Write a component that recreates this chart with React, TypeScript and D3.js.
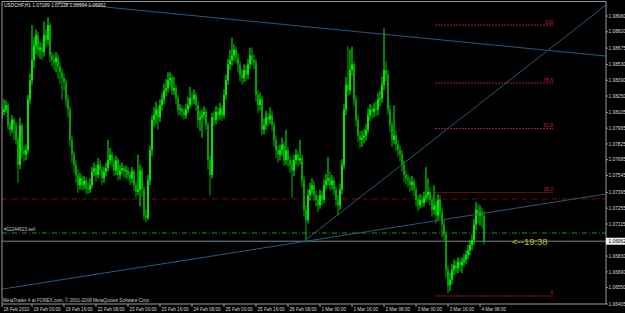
import React from "react";
import * as d3 from "d3";

const W = 625;
const H = 313;

const closes = [
  1.0811, 1.0813, 1.0817, 1.0799, 1.0795, 1.0804, 1.0799, 1.0786, 1.0764, 1.0799,
  1.0777, 1.0773, 1.0777, 1.0822, 1.0839, 1.0857, 1.0870, 1.0879, 1.0866, 1.0868,
  1.0864, 1.0879, 1.0875, 1.0888, 1.0861, 1.0857, 1.0855, 1.0859, 1.0851, 1.0846,
  1.0841, 1.0837, 1.0822, 1.0813, 1.0786, 1.0773, 1.0764, 1.0755, 1.0746, 1.0752,
  1.0746, 1.0750, 1.0743, 1.0742, 1.0746, 1.0758, 1.0761, 1.0755, 1.0764, 1.0759,
  1.0752, 1.0758, 1.0761, 1.0768, 1.0773, 1.0767, 1.0759, 1.0768, 1.0755, 1.0759,
  1.0761, 1.0758, 1.0759, 1.0755, 1.0752, 1.0758, 1.0746, 1.0740, 1.0742, 1.0759,
  1.0742, 1.0719, 1.0717, 1.0750, 1.0777, 1.0804, 1.0808, 1.0813, 1.0806, 1.0817,
  1.0822, 1.0830, 1.0832, 1.0839, 1.0841, 1.0830, 1.0832, 1.0823, 1.0813, 1.0814,
  1.0811, 1.0808, 1.0813, 1.0817, 1.0823, 1.0822, 1.0826, 1.0817, 1.0804, 1.0806,
  1.0808, 1.0811, 1.0799, 1.0768, 1.0755, 1.0806, 1.0804, 1.0811, 1.0808, 1.0814,
  1.0808, 1.0826, 1.0839, 1.0853, 1.0857, 1.0861, 1.0866, 1.0859, 1.0853, 1.0844,
  1.0841, 1.0848, 1.0844, 1.0853, 1.0861, 1.0857, 1.0855, 1.0826, 1.0817, 1.0822,
  1.0795, 1.0799, 1.0806, 1.0804, 1.0808, 1.0799, 1.0786, 1.0777, 1.0773, 1.0777,
  1.0782, 1.0768, 1.0777, 1.0768, 1.0764, 1.0759, 1.0768, 1.0773, 1.0768, 1.0770,
  1.0750, 1.0724, 1.0715, 1.0737, 1.0742, 1.0746, 1.0737, 1.0733, 1.0728, 1.0737,
  1.0733, 1.0746, 1.0750, 1.0752, 1.0746, 1.0750, 1.0742, 1.0733, 1.0728, 1.0742,
  1.0764, 1.0813, 1.0835, 1.0830, 1.0848, 1.0853, 1.0822, 1.0804, 1.0790, 1.0786,
  1.0788, 1.0790, 1.0795, 1.0808, 1.0813, 1.0811, 1.0814, 1.0813, 1.0822, 1.0823,
  1.0835, 1.0848, 1.0844, 1.0813, 1.0799, 1.0786, 1.0790, 1.0782, 1.0777, 1.0773,
  1.0764, 1.0755, 1.0752, 1.0750, 1.0746, 1.0749, 1.0742, 1.0733, 1.0728, 1.0733,
  1.0730, 1.0735, 1.0737, 1.0740, 1.0733, 1.0724, 1.0728, 1.0719, 1.0733, 1.0722,
  1.0711, 1.0702, 1.0671, 1.0657, 1.0662, 1.0671, 1.0675, 1.0672, 1.0678, 1.0675,
  1.0678, 1.0680, 1.0684, 1.0688, 1.0693, 1.0697, 1.0711, 1.0724, 1.0719, 1.0722,
  1.0719, 1.06962,
];

const opens = [
  1.0808, 1.0811, 1.0813, 1.0817, 1.0799, 1.0795, 1.0804, 1.0799, 1.0786, 1.0764,
  1.0799, 1.0777, 1.0773, 1.0777, 1.0822, 1.0839, 1.0857, 1.0870, 1.0879, 1.0866,
  1.0868, 1.0864, 1.0879, 1.0875, 1.0888, 1.0861, 1.0857, 1.0855, 1.0859, 1.0851,
  1.0846, 1.0841, 1.0837, 1.0822, 1.0813, 1.0786, 1.0773, 1.0764, 1.0755, 1.0746,
  1.0752, 1.0746, 1.0750, 1.0743, 1.0742, 1.0746, 1.0758, 1.0761, 1.0755, 1.0764,
  1.0759, 1.0752, 1.0758, 1.0761, 1.0768, 1.0773, 1.0767, 1.0759, 1.0768, 1.0755,
  1.0759, 1.0761, 1.0758, 1.0759, 1.0755, 1.0752, 1.0758, 1.0746, 1.0740, 1.0742,
  1.0759, 1.0742, 1.0719, 1.0717, 1.0750, 1.0777, 1.0804, 1.0808, 1.0813, 1.0806,
  1.0817, 1.0822, 1.0830, 1.0832, 1.0839, 1.0841, 1.0830, 1.0832, 1.0823, 1.0813,
  1.0814, 1.0811, 1.0808, 1.0813, 1.0817, 1.0823, 1.0822, 1.0826, 1.0817, 1.0804,
  1.0806, 1.0808, 1.0811, 1.0799, 1.0768, 1.0755, 1.0806, 1.0804, 1.0811, 1.0808,
  1.0814, 1.0808, 1.0826, 1.0839, 1.0853, 1.0857, 1.0861, 1.0866, 1.0859, 1.0853,
  1.0844, 1.0841, 1.0848, 1.0844, 1.0853, 1.0861, 1.0857, 1.0855, 1.0826, 1.0817,
  1.0822, 1.0795, 1.0799, 1.0806, 1.0804, 1.0808, 1.0799, 1.0786, 1.0777, 1.0773,
  1.0777, 1.0782, 1.0768, 1.0777, 1.0768, 1.0764, 1.0759, 1.0768, 1.0773, 1.0768,
  1.0770, 1.0750, 1.0724, 1.0715, 1.0737, 1.0742, 1.0746, 1.0737, 1.0733, 1.0728,
  1.0737, 1.0733, 1.0746, 1.0750, 1.0752, 1.0746, 1.0750, 1.0742, 1.0733, 1.0728,
  1.0742, 1.0764, 1.0813, 1.0835, 1.0830, 1.0848, 1.0853, 1.0822, 1.0804, 1.0790,
  1.0786, 1.0788, 1.0790, 1.0795, 1.0808, 1.0813, 1.0811, 1.0814, 1.0813, 1.0822,
  1.0823, 1.0835, 1.0848, 1.0844, 1.0813, 1.0799, 1.0786, 1.0790, 1.0782, 1.0777,
  1.0773, 1.0764, 1.0755, 1.0752, 1.0750, 1.0746, 1.0749, 1.0742, 1.0733, 1.0728,
  1.0733, 1.0730, 1.0735, 1.0737, 1.0740, 1.0733, 1.0724, 1.0728, 1.0719, 1.0733,
  1.0722, 1.0711, 1.0702, 1.0671, 1.0657, 1.0662, 1.0671, 1.0675, 1.0672, 1.0678,
  1.0675, 1.0678, 1.0680, 1.0684, 1.0688, 1.0693, 1.0697, 1.0711, 1.0724, 1.0719,
  1.0722, 1.07189,
];

const highs = [
  1.0816, 1.0822, 1.0821, 1.0819, 1.0802, 1.0808, 1.0806, 1.0802, 1.0789, 1.0806,
  1.0801, 1.0781, 1.0782, 1.0826, 1.0845, 1.0888, 1.0877, 1.0884, 1.0882, 1.0873,
  1.0872, 1.0891, 1.0884, 1.0895, 1.0890, 1.0864, 1.0862, 1.0864, 1.0862, 1.0855,
  1.0850, 1.0845, 1.0840, 1.0826, 1.0816, 1.0790, 1.0776, 1.0768, 1.0760, 1.0757,
  1.0755, 1.0754, 1.0753, 1.0748, 1.0752, 1.0762, 1.0766, 1.0764, 1.0770, 1.0768,
  1.0762, 1.0762, 1.0766, 1.0786, 1.0779, 1.0776, 1.0770, 1.0772, 1.0770, 1.0764,
  1.0766, 1.0764, 1.0763, 1.0762, 1.0758, 1.0762, 1.0760, 1.0750, 1.0773, 1.0764,
  1.0762, 1.0745, 1.0724, 1.0755, 1.0781, 1.0808, 1.0815, 1.0820, 1.0816, 1.0822,
  1.0828, 1.0836, 1.0840, 1.0846, 1.0846, 1.0844, 1.0842, 1.0835, 1.0826, 1.0818,
  1.0817, 1.0814, 1.0818, 1.0824, 1.0833, 1.0828, 1.0831, 1.0828, 1.0820, 1.0812,
  1.0813, 1.0816, 1.0814, 1.0802, 1.0772, 1.0810, 1.0812, 1.0816, 1.0815, 1.0819,
  1.0817, 1.0831, 1.0844, 1.0858, 1.0866, 1.0877, 1.0871, 1.0869, 1.0863, 1.0856,
  1.0848, 1.0853, 1.0852, 1.0858, 1.0868, 1.0868, 1.0862, 1.0858, 1.0830, 1.0828,
  1.0825, 1.0805, 1.0812, 1.0810, 1.0815, 1.0812, 1.0802, 1.0790, 1.0781, 1.0782,
  1.0788, 1.0785, 1.0795, 1.0780, 1.0772, 1.0768, 1.0773, 1.0778, 1.0776, 1.0786,
  1.0773, 1.0754, 1.0728, 1.0742, 1.0748, 1.0752, 1.0750, 1.0741, 1.0737, 1.0742,
  1.0741, 1.0751, 1.0756, 1.0771, 1.0758, 1.0755, 1.0753, 1.0745, 1.0737, 1.0747,
  1.0769, 1.0818, 1.0842, 1.0869, 1.0866, 1.0869, 1.0856, 1.0826, 1.0808, 1.0794,
  1.0794, 1.0796, 1.0800, 1.0814, 1.0818, 1.0817, 1.0819, 1.0820, 1.0828, 1.0830,
  1.0842, 1.0885, 1.0856, 1.0848, 1.0817, 1.0803, 1.0817, 1.0794, 1.0786, 1.0781,
  1.0777, 1.0768, 1.0759, 1.0756, 1.0753, 1.0754, 1.0752, 1.0745, 1.0737, 1.0738,
  1.0737, 1.0740, 1.0762, 1.0752, 1.0744, 1.0737, 1.0746, 1.0732, 1.0738, 1.0737,
  1.0726, 1.0716, 1.0705, 1.0675, 1.0668, 1.0676, 1.0680, 1.0679, 1.0682, 1.0681,
  1.0682, 1.0685, 1.0688, 1.0693, 1.0697, 1.0702, 1.0716, 1.0731, 1.0729, 1.0728,
  1.0726, 1.07228,
];

const lows = [
  1.0805, 1.0808, 1.0810, 1.0795, 1.0790, 1.0792, 1.0786, 1.0782, 1.0748, 1.0760,
  1.0770, 1.0767, 1.0768, 1.0774, 1.0818, 1.0835, 1.0850, 1.0862, 1.0860, 1.0858,
  1.0857, 1.0860, 1.0868, 1.0870, 1.0855, 1.0851, 1.0848, 1.0846, 1.0840, 1.0836,
  1.0822, 1.0830, 1.0815, 1.0806, 1.0780, 1.0766, 1.0757, 1.0748, 1.0739, 1.0742,
  1.0741, 1.0742, 1.0738, 1.0738, 1.0739, 1.0743, 1.0754, 1.0749, 1.0752, 1.0754,
  1.0746, 1.0748, 1.0754, 1.0758, 1.0764, 1.0762, 1.0754, 1.0755, 1.0750, 1.0751,
  1.0756, 1.0753, 1.0752, 1.0750, 1.0746, 1.0748, 1.0741, 1.0735, 1.0737, 1.0727,
  1.0736, 1.0715, 1.0713, 1.0715, 1.0746, 1.0772, 1.0798, 1.0800, 1.0795, 1.0802,
  1.0812, 1.0818, 1.0825, 1.0828, 1.0834, 1.0826, 1.0826, 1.0818, 1.0808, 1.0808,
  1.0806, 1.0804, 1.0805, 1.0810, 1.0814, 1.0817, 1.0818, 1.0812, 1.0797, 1.0794,
  1.0788, 1.0804, 1.0795, 1.0760, 1.0737, 1.0752, 1.0798, 1.0800, 1.0803, 1.0804,
  1.0803, 1.0805, 1.0822, 1.0835, 1.0848, 1.0852, 1.0856, 1.0854, 1.0846, 1.0838,
  1.0835, 1.0837, 1.0838, 1.0840, 1.0849, 1.0852, 1.0849, 1.0820, 1.0810, 1.0812,
  1.0790, 1.0791, 1.0795, 1.0798, 1.0800, 1.0794, 1.0780, 1.0770, 1.0766, 1.0768,
  1.0772, 1.0763, 1.0764, 1.0762, 1.0757, 1.0735, 1.0754, 1.0764, 1.0762, 1.0764,
  1.0744, 1.0718, 1.0695, 1.0712, 1.0732, 1.0738, 1.0732, 1.0727, 1.0722, 1.0725,
  1.0728, 1.0730, 1.0742, 1.0746, 1.0741, 1.0742, 1.0737, 1.0727, 1.0719, 1.0724,
  1.0738, 1.0760, 1.0808, 1.0825, 1.0826, 1.0843, 1.0816, 1.0798, 1.0784, 1.0779,
  1.0780, 1.0783, 1.0785, 1.0792, 1.0803, 1.0805, 1.0806, 1.0807, 1.0808, 1.0816,
  1.0819, 1.0830, 1.0838, 1.0808, 1.0793, 1.0780, 1.0782, 1.0776, 1.0771, 1.0767,
  1.0758, 1.0749, 1.0747, 1.0744, 1.0740, 1.0741, 1.0736, 1.0727, 1.0723, 1.0725,
  1.0726, 1.0727, 1.0731, 1.0733, 1.0728, 1.0718, 1.0720, 1.0712, 1.0715, 1.0716,
  1.0700, 1.0697, 1.0664, 1.0650, 1.0652, 1.0658, 1.0666, 1.0667, 1.0668, 1.0669,
  1.0668, 1.0674, 1.0676, 1.0680, 1.0684, 1.0688, 1.0693, 1.0706, 1.0712, 1.0710,
  1.0708, 1.06934,
];

const timeLabels = [
  "18 Feb 2010", "19 Feb 00:00", "19 Feb 16:00", "22 Feb 08:00", "23 Feb 00:00",
  "23 Feb 16:00", "24 Feb 08:00", "25 Feb 00:00", "25 Feb 16:00", "26 Feb 08:00",
  "1 Mar 00:00", "1 Mar 16:00", "2 Mar 08:00", "3 Mar 00:00", "3 Mar 16:00", "4 Mar 08:00",
];
const timeLabelBars = [0, 15, 31, 47, 63, 79, 95, 111, 127, 143, 159, 175, 191, 207, 223, 239];

const priceLabels = [
  "1.08960", "1.08820", "1.08675", "1.08530", "1.08390", "1.08250", "1.08105",
  "1.07965", "1.07825", "1.07685", "1.07545", "1.07395", "1.07255", "1.07115",
  "1.06975", "1.06830", "1.06690", "1.06550", "1.06405",
];

const fibNames = ["100", "78.6", "61.8", "38.2", "0"];
const fibRatios = [1, 0.786, 0.618, 0.382, 0];
const fibHighPrice = 1.0888;
const fibLowPrice = 1.06476;
const fibBars = [216.5, 275.5];

// trendlines: [bar, price, bar, price]
const trendTop = [31.5, 1.09075, 284, 1.08636];
const trendRise = [150.5, 1.06955, 284, 1.08809];
const trendLow = [0, 1.06537, 302, 1.07381];

const stopLevel = 1.07337;
const orderLevel = 1.07035;
const bidPrice = 1.06962;
const orderLabel = "#12244623 sell";
const timerLabel = "<--19:38";
const headerText = "USDCHF,H1  1.07189  1.07228  1.06934  1.06962";
const footerText = "MetaTrader 4 at FOREX.com, \u00a9 2001-2008 MetaQuotes Software Corp.";

const FONT = "'Liberation Sans', Arial, sans-serif";

export default function App() {
  const left = 2, right = 606, top = 1.5, bottom = 304;
  const x = d3.scaleLinear().domain([0, 302]).range([left, right]);
  const y = d3.scaleLinear().domain([1.06405, 1.0896]).range([304, 16]);

  const lineThrough = (t: number[], rayFrom = false) => {
    const slope = (y(t[3]) - y(t[1])) / (x(t[2]) - x(t[0]));
    const x0 = rayFrom ? x(t[0]) : left;
    const y0 = y(t[1]) + (x0 - x(t[0])) * slope;
    const y1 = y(t[1]) + (right - x(t[0])) * slope;
    return { x1: x0, y1: y0, x2: right, y2: y1 };
  };

  const candles = closes.map((c, i) => {
    const o = opens[i];
    const up = c >= o;
    const xc = x(i);
    const yt = y(Math.max(o, c));
    const yb = y(Math.min(o, c));
    const col = up ? "#00ff00" : "#00b400";
    return (
      <g key={i}>
        <line x1={xc} x2={xc} y1={y(highs[i])} y2={y(lows[i])} stroke={col} strokeWidth={1} />
        <rect x={xc - 0.8} y={yt} width={1.6} height={Math.max(0.8, yb - yt)} fill={col} />
      </g>
    );
  });

  const fibX1 = x(fibBars[0]);
  const fibX2 = x(fibBars[1]);
  const bidY = y(bidPrice);

  return (
    <svg width={W} height={H} style={{ display: "block", position: "absolute", left: 0, top: 0, background: "#000" }}>
      <rect x={0} y={0} width={W} height={H} fill="#000" />
      <defs>
        <clipPath id="plot">
          <rect x={left} y={top} width={right - left} height={bottom - top} />
        </clipPath>
      </defs>
      <g clipPath="url(#plot)">
        <line x1={left} x2={right} y1={y(stopLevel)} y2={y(stopLevel)} stroke="#7e0c0c" strokeWidth={1} strokeDasharray="5,2,1,2" />
        <line x1={left} x2={right} y1={y(orderLevel)} y2={y(orderLevel)} stroke="#1f8a1f" strokeWidth={1} strokeDasharray="5,2,1,2" />
        <line x1={left} x2={right} y1={bidY} y2={bidY} stroke="#7a8593" strokeWidth={1} />
        {fibRatios.map((r, k) => {
          const p = fibLowPrice + r * (fibHighPrice - fibLowPrice);
          const yy = y(p);
          const solid = fibNames[k] === "38.2";
          return (
            <g key={k}>
              <line x1={fibX1} x2={fibX2} y1={yy} y2={yy}
                stroke={solid ? "#6e0d0d" : "#a81c38"} strokeWidth={1}
                strokeDasharray={solid ? undefined : "2,1"} />
              <text x={fibX2} y={yy - 1.5} fill="#c01830" fontSize={5} fontFamily={FONT} textAnchor="end">{fibNames[k]}</text>
            </g>
          );
        })}
        {candles}
        <line {...lineThrough(trendTop)} stroke="#28597e" strokeWidth={1} />
        <line {...lineThrough(trendRise, true)} stroke="#28597e" strokeWidth={1} />
        <line {...lineThrough(trendLow)} stroke="#28597e" strokeWidth={1} />
        <text x={4} y={y(orderLevel) - 2} fill="#c8c8c8" fontSize={4.6} fontFamily={FONT}>{orderLabel}</text>
        <text x={512} y={bidY + 3.3} fill="#c4c020" fontSize={9.5} fontFamily={FONT}>{timerLabel}</text>
      </g>
      <text x={4} y={7} fill="#e0e0e0" fontSize={4.8} fontFamily={FONT}>{headerText}</text>
      <text x={3} y={301.5} fill="#c8c8c8" fontSize={4.6} fontFamily={FONT}>{footerText}</text>
      <line x1={left} x2={left} y1={top} y2={bottom} stroke="#9a9a9a" strokeWidth={1} />
      <line x1={left} x2={right} y1={top} y2={top} stroke="#9a9a9a" strokeWidth={1} />
      <line x1={right} x2={right} y1={top} y2={bottom} stroke="#9a9a9a" strokeWidth={1} />
      <line x1={left} x2={right} y1={bottom} y2={bottom} stroke="#9a9a9a" strokeWidth={1} />
      {priceLabels.map((s, k) => {
        const yy = y(parseFloat(s));
        const hidden = Math.abs(yy - bidY) < 6;
        return (
          <g key={k}>
            <line x1={right} x2={right + 2} y1={yy} y2={yy} stroke="#9a9a9a" />
            {!hidden && (
              <text x={right + 2.5} y={yy + 1.7} fill="#d8d8d8" fontSize={4.8} fontFamily={FONT}>{s}</text>
            )}
          </g>
        );
      })}
      <rect x={right} y={bidY - 3.5} width={W - right} height={7} fill="#f0f0f0" />
      <text x={right + 2.5} y={bidY + 1.8} fill="#000" fontSize={4.8} fontFamily={FONT}>{bidPrice.toFixed(5)}</text>
      {timeLabels.map((s, k) => {
        const xx = x(timeLabelBars[k]);
        return (
          <g key={k}>
            <line x1={xx} x2={xx} y1={bottom} y2={bottom + 3} stroke="#9a9a9a" />
            <text x={xx + 1.5} y={bottom + 6.5} fill="#d8d8d8" fontSize={4.6} fontFamily={FONT}>{s}</text>
          </g>
        );
      })}
    </svg>
  );
}
